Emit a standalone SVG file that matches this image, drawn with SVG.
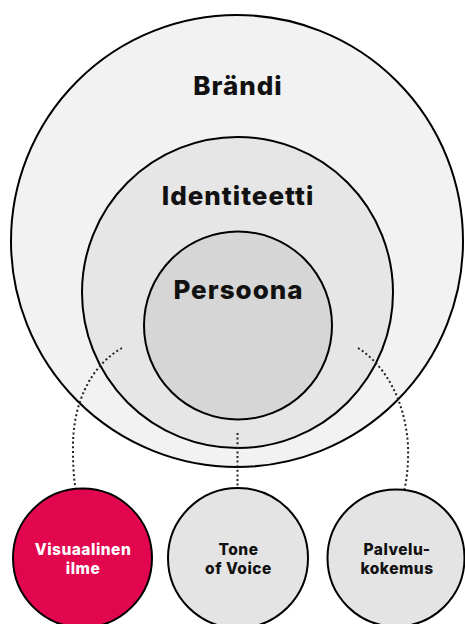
<svg xmlns="http://www.w3.org/2000/svg" width="465" height="624" viewBox="0 0 465 624">
  <style>
    .ring { stroke: #000; stroke-width: 2; }
    .lbl { font-family: Inter, "Liberation Sans", sans-serif; font-weight: 800; text-anchor: middle; fill: #111; }
    .big { font-size: 26px; letter-spacing: 1px; }
    .small { font-size: 15.5px; letter-spacing: 0.5px; }
    .dots { fill: none; stroke: #222; stroke-width: 2; stroke-dasharray: 2 2.6; }
  </style>
  <rect width="465" height="624" fill="#fff"/>
  <g id="brandi">
    <circle class="ring" cx="237" cy="241" r="226" fill="#f2f2f2"/>
    <text class="lbl big" x="238" y="95">Brändi</text>
  </g>
  <g id="identiteetti">
    <circle class="ring" cx="237.5" cy="292.5" r="155.5" fill="#e6e6e6"/>
    <text class="lbl big" x="238" y="205">Identiteetti</text>
  </g>
  <g id="persoona">
    <circle class="ring" cx="238" cy="325.5" r="94" fill="#d6d6d6"/>
    <text class="lbl big" x="238.5" y="299">Persoona</text>
  </g>
  <g id="connectors">
    <path class="dots" d="M122,348 C90,366 72,405 73,450 C73,475 75,495 81,508"/>
    <path class="dots" d="M237.5,433 L237.5,508"/>
    <path class="dots" d="M358,348 C385,365 405,400 408,445 C409,475 404,495 399,508"/>
  </g>
  <g id="visuaalinen">
    <circle class="ring" cx="82.5" cy="558" r="69.5" fill="#e2064f"/>
    <text class="lbl small" x="83" y="555" style="fill:#fff">Visuaalinen</text>
    <text class="lbl small" x="83" y="574" style="fill:#fff">ilme</text>
  </g>
  <g id="tone">
    <circle class="ring" cx="238" cy="558" r="70" fill="#e4e4e4"/>
    <text class="lbl small" x="238.5" y="555">Tone</text>
    <text class="lbl small" x="238.5" y="574">of Voice</text>
  </g>
  <g id="palvelu">
    <circle class="ring" cx="396" cy="558" r="68.5" fill="#e4e4e4"/>
    <text class="lbl small" x="397" y="555">Palvelu-</text>
    <text class="lbl small" x="397" y="574">kokemus</text>
  </g>
</svg>
